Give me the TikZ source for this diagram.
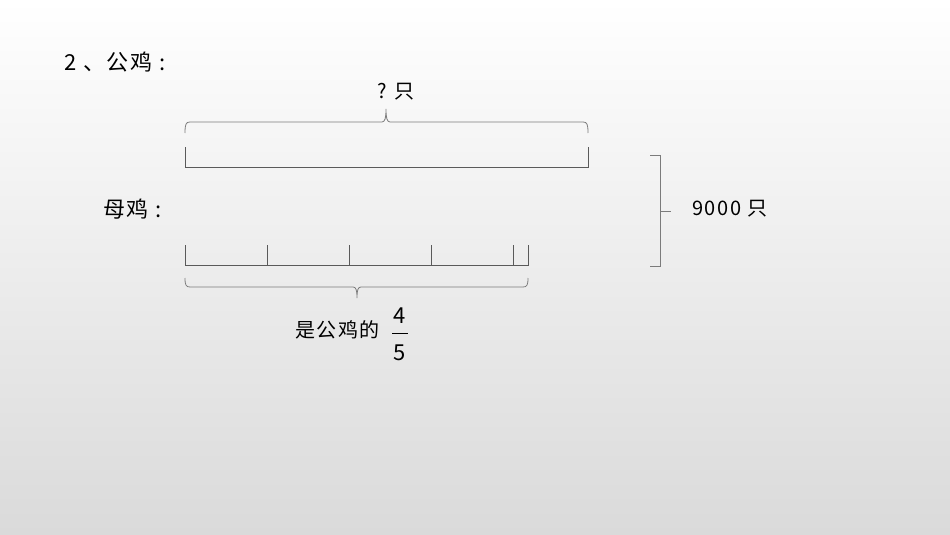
\documentclass[tikz,border=0pt]{standalone}
\usepackage{fontspec}
\setmainfont{Noto Sans CJK SC}
\newfontfamily\cjk[LetterSpace=8]{Noto Sans CJK SC}
\newfontfamily\cjkplain{Noto Sans CJK SC}
\definecolor{bgbot}{RGB}{218,218,218}
\definecolor{linegray}{RGB}{90,90,90}
\begin{document}
\begin{tikzpicture}[x=1pt,y=-1pt,
  lbl/.style={inner sep=0pt,font=\cjk\fontsize{20}{23}\selectfont,text=black},
  big/.style={inner sep=0pt,font=\cjk\fontsize{22}{26}\selectfont,text=black},
  dig/.style={inner sep=0pt,font=\cjkplain\fontsize{22}{26}\selectfont,text=black},
  ln/.style={draw=linegray,line width=1pt},
  br/.style={draw=linegray!80,line width=0.8pt}]
\useasboundingbox (0,0) rectangle (950,535);
\shade[top color=white,bottom color=bgbot] (0,0) rectangle (950,535);
% title
\node[big,anchor=west] (title) at (64,62) {2 、公鸡 :};
\node[big,anchor=west] (hen) at (103,209) {母鸡 :};
% top bar
\draw[ln] (185,147) -- (185,167) -- (588,167) -- (588,147);
% top brace
\draw[br] (185,133) .. controls (185,124) and (186,122) .. (190,122) -- (382,122)
  .. controls (385,122) and (386,118) .. (386,109)
  .. controls (386,118) and (387,122) .. (390,122) -- (583,122)
  .. controls (587,122) and (588,124) .. (588,133);
\node[lbl] (q) at (396,92) {? 只};
% bottom bar
\draw[ln] (185,245) -- (185,265) -- (528,265) -- (528,245);
\foreach \x in {267,349,431,513}
  \draw[ln] (\x,245) -- (\x,265);
% bottom brace
\draw[br] (185,278) .. controls (185,285) and (186,287) .. (190,287) -- (353,287)
  .. controls (356,287) and (357,290) .. (357,298)
  .. controls (357,290) and (358,287) .. (361,287) -- (523,287)
  .. controls (527,287) and (528,285) .. (528,278);
\node[lbl,anchor=west] (hint) at (295,330) {是公鸡的};
\node[dig] (num) at (400,316) {4};
\node[dig] (den) at (400,353) {5};
\coordinate (fl) at (392,333);
\coordinate (fr) at (408,333);
\draw[draw=black,line width=0.8pt] (fl) -- (fr);
% right bracket
\coordinate (rt) at (650,155);
\coordinate (rb) at (650,266);
\draw[br] (rt) -- (660,155) -- (660,266) -- (rb);
\coordinate (rm) at (660,211);
\coordinate (rm2) at (671,211);
\draw[br] (rm) -- (rm2);
\node[lbl,anchor=west] (total) at (692,209) {9000 只};
\end{tikzpicture}
\end{document}
